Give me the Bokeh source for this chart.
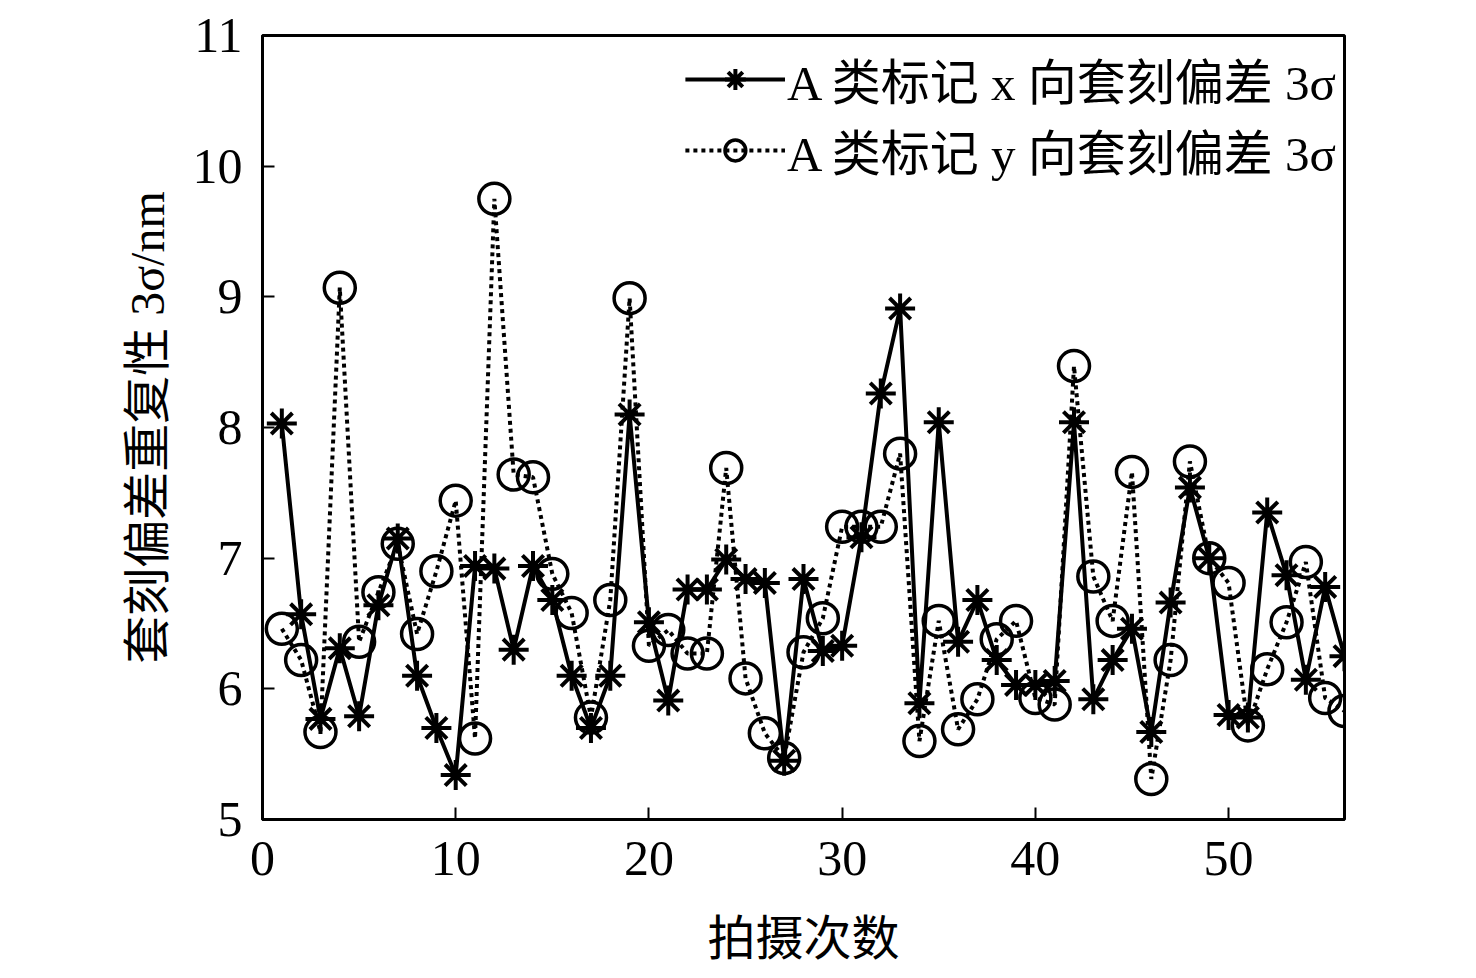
from bokeh.plotting import figure
from bokeh.models import Legend, LegendItem, FixedTicker, Range1d
from bokeh.embed import file_html
from bokeh.resources import INLINE

shots = list(range(1, 57))
x_3sigma = [8.03, 6.57, 5.77, 6.31, 5.79, 6.64, 7.15, 6.10, 5.70, 5.34,
            6.94, 6.92, 6.30, 6.94, 6.68, 6.10, 5.70, 6.10, 8.10, 6.51,
            5.91, 6.76, 6.76, 6.99, 6.84, 6.81, 5.45, 6.84, 6.29, 6.33,
            7.16, 8.26, 8.91, 5.89, 8.04, 6.36, 6.68, 6.22, 6.03, 6.03,
            6.06, 8.04, 5.92, 6.22, 6.46, 5.67, 6.66, 7.54, 7.00, 5.80,
            5.78, 7.35, 6.87, 6.07, 6.78, 6.25]
y_3sigma = [6.46, 6.22, 5.67, 9.07, 6.36, 6.74, 7.11, 6.42, 6.90, 7.44,
            5.62, 9.75, 7.64, 7.62, 6.88, 6.58, 5.78, 6.68, 8.99, 6.33,
            6.45, 6.27, 6.27, 7.69, 6.08, 5.66, 5.47, 6.28, 6.54, 7.24,
            7.24, 7.24, 7.80, 5.60, 6.52, 5.69, 5.92, 6.38, 6.52, 5.93,
            5.88, 8.47, 6.86, 6.52, 7.66, 5.31, 6.22, 7.74, 7.00, 6.81,
            5.72, 6.15, 6.51, 6.97, 5.93, 5.83]
x_ticks = [0, 10, 20, 30, 40, 50]
y_ticks = [5, 6, 7, 8, 9, 10, 11]
legend_x = "A 类标记 x 向套刻偏差 3σ"
legend_y = "A 类标记 y 向套刻偏差 3σ"
x_label = "拍摄次数"
y_label = "套刻偏差重复性 3σ/nm"

FONT = "Liberation Serif, Noto Sans CJK SC"

p = figure(output_backend="svg", toolbar_location=None,
           frame_width=1082, frame_height=784,
           min_border_left=262, min_border_top=35,
           min_border_right=110, min_border_bottom=130,
           x_range=Range1d(0, 56), y_range=Range1d(5, 11))
p.background_fill_color = "white"
p.border_fill_color = "white"
p.grid.visible = False
p.outline_line_color = "black"
p.outline_line_width = 3

for ax in (p.xaxis, p.yaxis):
    ax.axis_line_width = 3
    ax.major_tick_line_width = 2
    ax.major_tick_in = 12
    ax.major_tick_out = 0
    ax.minor_tick_line_color = None
    ax.major_label_text_font = FONT
    ax.major_label_text_font_size = "50px"
    ax.major_label_text_color = "black"
    ax.axis_label_text_font = FONT
    ax.axis_label_text_font_size = "48px"
    ax.axis_label_text_font_style = "normal"
    ax.axis_label_text_color = "black"

p.xaxis.ticker = FixedTicker(ticks=x_ticks)
p.yaxis.ticker = FixedTicker(ticks=y_ticks)
p.xaxis.major_label_standoff = 22
p.yaxis.major_label_standoff = 20
p.xaxis.axis_label = x_label
p.yaxis.axis_label = y_label
p.xaxis.axis_label_standoff = 34
p.yaxis.axis_label_standoff = 16

ly = p.line(shots, y_3sigma, line_color="black", line_width=4, line_dash="4 4")
cy = p.scatter(shots, y_3sigma, marker="circle", size=31, line_color="black",
               line_width=3.5, fill_color=None)
lx = p.line(shots, x_3sigma, line_color="black", line_width=4)
sx = p.scatter(shots, x_3sigma, marker="asterisk", size=30, line_color="black",
               line_width=4)

legend = Legend(items=[LegendItem(label=legend_x, renderers=[lx, sx]),
                       LegendItem(label=legend_y, renderers=[ly, cy])],
                location="top_right")
legend.border_line_color = None
legend.background_fill_alpha = 0
legend.label_text_font = FONT
legend.label_text_font_size = "49px"
legend.label_text_color = "black"
legend.glyph_width = 100
legend.glyph_height = 52
legend.label_standoff = 2
legend.label_height = 52
legend.spacing = -22
legend.margin = 8
legend.padding = 0
p.add_layout(legend)

open("out.html", "w").write(file_html(p, INLINE))
